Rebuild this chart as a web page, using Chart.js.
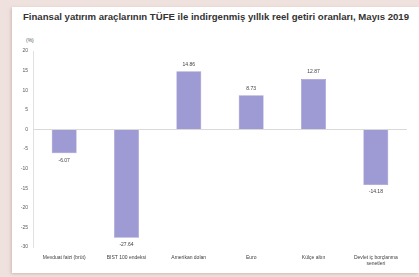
<!DOCTYPE html>
<html>
<head>
<meta charset="utf-8">
<script src="https://cdn.jsdelivr.net/npm/chart.js@4"></script>
<style>
  html, body { margin: 0; padding: 0; }
  body { width: 419px; height: 277px; background: #efe2de; position: relative; overflow: hidden; font-family: "Liberation Sans", Arial, sans-serif; }
  .card { position: absolute; left: 12px; top: 7px; width: 407px; height: 266px; background: #fff; box-shadow: -1px 1px 3px rgba(150,110,100,0.35); }
  .title { position: absolute; left: 14px; top: 11px; width: 404px; text-align: center; font-size: 9.6px; font-weight: bold; color: #333; white-space: nowrap; }
  .unit { position: absolute; left: 26px; top: 37px; font-size: 5px; color: #595959; }
  #chart { position: absolute; left: 0; top: 0; }
</style>
</head>
<body>
<div class="card"></div>
<div class="title">Finansal yatırım araçlarının TÜFE ile indirgenmiş yıllık reel getiri oranları, Mayıs 2019</div>
<div class="unit">(%)</div>
<canvas id="chart" width="419" height="277"></canvas>
<script>
// chart data
const categories = [
  'Mevduat faizi (brüt)',
  'BIST 100 endeksi',
  'Amerikan doları',
  'Euro',
  'Külçe altın',
  ['Devlet iç borçlanma', 'senetleri']
];
const realReturns = [-6.07, -27.64, 14.86, 8.73, 12.87, -14.18];
const yTicks = [20, 15, 10, 5, 0, -5, -10, -15, -20, -25, -30];

// value labels above / below each bar
const valueLabels = {
  id: 'valueLabels',
  afterDatasetsDraw(chart) {
    const ctx = chart.ctx;
    const meta = chart.getDatasetMeta(0);
    ctx.save();
    ctx.font = '5px "Liberation Sans", Arial, sans-serif';
    ctx.fillStyle = '#404040';
    ctx.textAlign = 'center';
    ctx.textBaseline = 'middle';
    meta.data.forEach((bar, i) => {
      const v = realReturns[i];
      const y = v >= 0 ? bar.y - 7 : bar.y + 7;
      ctx.fillText(v.toFixed(2), bar.x, y);
    });
    ctx.restore();
  }
};

const ctx = document.getElementById('chart').getContext('2d');
new Chart(ctx, {
  type: 'bar',
  data: {
    labels: categories,
    datasets: [{
      data: realReturns,
      backgroundColor: '#9e9ad3',
      borderColor: '#8f8bc8',
      borderWidth: 0.5,
      barPercentage: 0.8,
      categoryPercentage: 0.5
    }]
  },
  options: {
    responsive: false,
    animation: false,
    layout: { padding: { left: 0, right: 12, top: 51, bottom: 0 } },
    plugins: {
      legend: { display: false },
      tooltip: { enabled: false }
    },
    scales: {
      x: {
        grid: { display: false, drawTicks: false },
        border: { display: false },
        ticks: {
          font: { size: 5, family: '"Liberation Sans", Arial, sans-serif' },
          color: '#404040',
          padding: 8,
          maxRotation: 0,
          autoSkip: false
        },
        afterFit(scale) { scale.height = 30; }
      },
      y: {
        min: -30,
        max: 20,
        afterBuildTicks(scale) { scale.ticks = yTicks.map(v => ({ value: v })); },
        grid: {
          drawTicks: false,
          color: ctx => ctx.tick && ctx.tick.value === 0 ? '#d9d9d9' : 'rgba(0,0,0,0)',
          lineWidth: 1
        },
        border: { display: true, color: '#e0e0e0' },
        ticks: {
          font: { size: 5, family: '"Liberation Sans", Arial, sans-serif' },
          color: '#595959',
          padding: 5
        },
        afterFit(scale) { scale.width = 33; }
      }
    }
  },
  plugins: [valueLabels]
});
</script>
</body>
</html>
